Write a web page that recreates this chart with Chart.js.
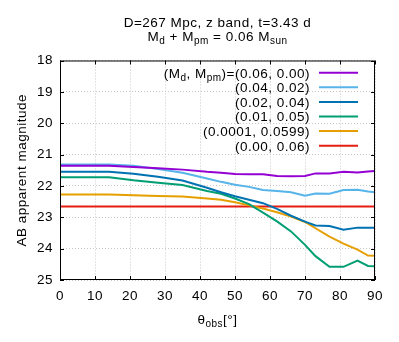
<!DOCTYPE html>
<html>
<head>
<meta charset="utf-8">
<script src="https://cdn.jsdelivr.net/npm/chart.js@4.4.0/dist/chart.umd.min.js"></script>
<style>
html,body{margin:0;padding:0;background:#fff;}
</style>
</head>
<body>
<canvas id="myChart" width="399" height="342"></canvas>
<script>
// viewing angle (deg) and AB magnitudes for each (Md, Mpm) pair
const angles   = [0, 7, 14, 21, 28, 35, 42, 46, 50, 54, 58, 62, 66, 70, 73, 77, 81, 85, 88, 90];
const m060_000 = [21.36, 21.36, 21.36, 21.40, 21.44, 21.48, 21.55, 21.58, 21.62, 21.63, 21.63, 21.68, 21.69, 21.68, 21.60, 21.60, 21.55, 21.57, 21.54, 21.52];
const m040_020 = [21.32, 21.32, 21.32, 21.36, 21.46, 21.58, 21.76, 21.87, 21.96, 22.03, 22.13, 22.16, 22.20, 22.31, 22.24, 22.25, 22.13, 22.12, 22.18, 22.20];
const m020_040 = [21.55, 21.55, 21.55, 21.61, 21.71, 21.83, 22.06, 22.20, 22.33, 22.44, 22.55, 22.73, 22.95, 23.14, 23.26, 23.28, 23.40, 23.33, 23.33, 23.33];
const m010_050 = [21.72, 21.72, 21.72, 21.82, 21.90, 21.97, 22.16, 22.25, 22.40, 22.58, 22.85, 23.13, 23.45, 23.88, 24.24, 24.58, 24.58, 24.38, 24.55, 24.56];
const m0001_0599 = [22.27, 22.27, 22.27, 22.30, 22.32, 22.34, 22.40, 22.44, 22.52, 22.62, 22.72, 22.84, 22.98, 23.15, 23.35, 23.62, 23.84, 24.03, 24.22, 24.23];
const m000_060 = [22.66, 22.66, 22.66, 22.66, 22.66, 22.66, 22.66, 22.66, 22.66, 22.66, 22.66, 22.66, 22.66, 22.66, 22.66, 22.66, 22.66, 22.66, 22.66, 22.66];

const seriesLabels = ['(0.06, 0.00)', '(0.04, 0.02)', '(0.02, 0.04)', '(0.01, 0.05)', '(0.0001, 0.0599)', '(0.00, 0.06)'];
const seriesValues = [m060_000, m040_020, m020_040, m010_050, m0001_0599, m000_060];
const seriesColors = ['#9400d3', '#56b4e9', '#0072b2', '#009e73', '#e69f00', '#e51e10'];

const FONT = '"Liberation Sans", Arial, sans-serif';
const mainFont = '13.5px ' + FONT;
const subFont = '10px ' + FONT;
const SPACING = '0.5px';

// draw text pieces, [text, isSub]
function richText(ctx, parts, x, y, align) {
    let w = 0;
    parts.forEach(p => { ctx.font = p[1] ? subFont : mainFont; w += ctx.measureText(p[0]).width; });
    let cx = align === 'right' ? x - w : (align === 'center' ? x - w / 2 : x);
    ctx.textAlign = 'left';
    ctx.textBaseline = 'alphabetic';
    parts.forEach(p => {
        ctx.font = p[1] ? subFont : mainFont;
        ctx.fillText(p[0], cx, p[1] ? y + 3 : y);
        cx += ctx.measureText(p[0]).width;
    });
}

const extras = {
    id: 'extras',
    beforeDraw(chart) {
        chart.ctx.letterSpacing = SPACING;
    },
    afterDraw(chart) {
        const ctx = chart.ctx;
        const a = chart.chartArea;
        const xs = chart.scales.x, ys = chart.scales.y;
        ctx.save();
        ctx.letterSpacing = SPACING;
        ctx.fillStyle = '#000';
        // frame + inward ticks
        ctx.strokeStyle = '#000';
        ctx.lineWidth = 1;
        ctx.strokeRect(a.left + 0.5, a.top + 0.5, a.right - a.left - 1, a.bottom - a.top - 1);
        ctx.beginPath();
        xs.ticks.forEach(t => {
            const px = Math.round(xs.getPixelForValue(t.value)) + 0.5;
            ctx.moveTo(px, a.bottom); ctx.lineTo(px, a.bottom - 4);
            ctx.moveTo(px, a.top); ctx.lineTo(px, a.top + 4);
        });
        ys.ticks.forEach(t => {
            const py = Math.round(ys.getPixelForValue(t.value)) + 0.5;
            ctx.moveTo(a.left, py); ctx.lineTo(a.left + 4, py);
            ctx.moveTo(a.right, py); ctx.lineTo(a.right - 4, py);
        });
        ctx.stroke();

        // title
        const cx = (a.left + a.right) / 2;
        richText(ctx, [['D=267 Mpc, z band, t=3.43 d', 0]], cx, 27, 'center');
        richText(ctx, [['M', 0], ['d', 1], [' + M', 0], ['pm', 1], [' = 0.06 M', 0], ['sun', 1]], cx, 41, 'center');

        // x title
        richText(ctx, [['\u03b8', 0], ['obs', 1], ['[\u00b0]', 0]], cx, 324, 'center');

        // y title
        ctx.save();
        ctx.translate(22, (a.top + a.bottom) / 2);
        ctx.rotate(-Math.PI / 2);
        ctx.font = mainFont;
        ctx.textAlign = 'center';
        ctx.textBaseline = 'middle';
        ctx.fillText('AB apparent magnitude', 0, 0);
        ctx.restore();

        // legend
        const rowH = 14.6;
        for (let i = 0; i < seriesLabels.length; i++) {
            const y = 72.7 + i * rowH;
            const parts = i === 0
                ? [['(M', 0], ['d', 1], [', M', 0], ['pm', 1], [')=' + seriesLabels[i], 0]]
                : [[seriesLabels[i], 0]];
            richText(ctx, parts, 310, y + 4.8, 'right');
            ctx.strokeStyle = seriesColors[i];
            ctx.lineWidth = 2;
            ctx.beginPath();
            ctx.moveTo(319, y); ctx.lineTo(358, y);
            ctx.stroke();
        }
        ctx.restore();
    }
};

const datasets = seriesValues.map((vals, i) => ({
    label: seriesLabels[i],
    data: angles.map((x, j) => ({ x: x, y: vals[j] })),
    borderColor: seriesColors[i],
    backgroundColor: seriesColors[i],
    borderWidth: 2,
    pointRadius: 0,
    tension: 0
}));

const ctx = document.getElementById('myChart').getContext('2d');
const myChart = new Chart(ctx, {
    type: 'line',
    data: { datasets: datasets },
    options: {
        responsive: false,
        animation: false,
        layout: { padding: { left: 0, top: 60.5, right: 24, bottom: 0 } },
        plugins: { legend: { display: false }, tooltip: { enabled: false } },
        scales: {
            x: {
                type: 'linear', min: 0, max: 90,
                ticks: { stepSize: 10, color: '#000', font: { family: FONT, size: 13.5 }, padding: 8, maxRotation: 0 },
                grid: { color: '#c8c8c8', drawTicks: false, lineWidth: 1 },
                border: { display: false, dash: [1, 2] },
                afterFit: s => { s.height = 62; }
            },
            y: {
                min: 18, max: 25, reverse: true,
                ticks: { stepSize: 1, color: '#000', font: { family: FONT, size: 13.5 }, padding: 7 },
                grid: { color: '#c8c8c8', drawTicks: false, lineWidth: 1 },
                border: { display: false, dash: [1, 2] },
                afterFit: s => { s.width = 60; }
            }
        }
    },
    plugins: [extras]
});
</script>
</body>
</html>
